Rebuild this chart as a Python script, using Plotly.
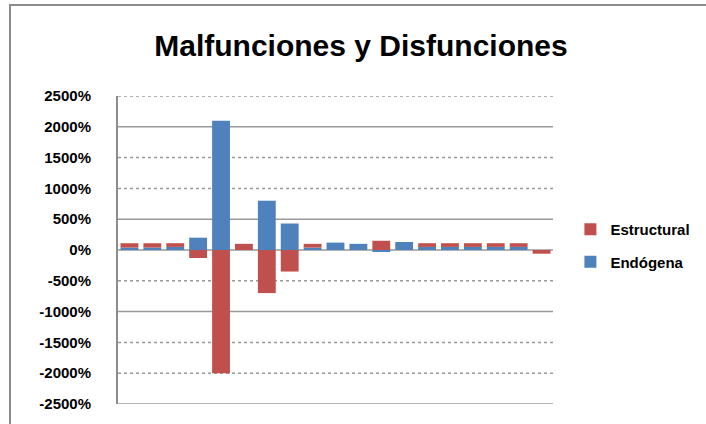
import plotly.graph_objects as go

categories = [str(i) for i in range(1, 20)]
estructural = [70, 70, 60, -130, -2000, 100, -700, -350, 60, 0, 0, 150, 0, 60, 60, 60, 60, 60, -60]
endogena = [40, 40, 50, 200, 2100, 0, 800, 430, 40, 120, 100, -20, 130, 50, 50, 50, 50, 50, 0]
tick_vals = [2500, 2000, 1500, 1000, 500, 0, -500, -1000, -1500, -2000, -2500]
tick_text = [f"<b>{v}%</b>" for v in tick_vals]
grid_dash = ["dot", "solid", "dot", "dot", "solid", "solid", "dot", "solid", "dot", "dot", "solid"]

RED = "#C0504D"
BLUE = "#4F81BD"

fig = go.Figure()
fig.add_trace(go.Bar(x=categories, y=endogena, name="<b>Endógena</b>", marker_color=BLUE,
                     marker_line_width=0, legendgroup="b", legendrank=2))
fig.add_trace(go.Bar(x=categories, y=estructural, name="<b>Estructural</b>", marker_color=RED,
                     marker_line_width=0, legendgroup="a", legendrank=1))

shapes = []
for v, d in zip(tick_vals, grid_dash):
    shapes.append(dict(type="line", xref="paper", yref="y", x0=0, x1=1, y0=v, y1=v,
                       line=dict(color="#9a9a9a", width=1.5, dash=d), layer="below"))
# outer chart border (only top and left visible in the crop)
shapes.append(dict(type="rect", xref="paper", yref="paper", x0=-0.2483, x1=1.40,
                   y0=-0.12, y1=1.2955, line=dict(color="#8c8c8c", width=2),
                   fillcolor="rgba(0,0,0,0)", layer="above"))

fig.update_layout(
    width=706, height=424,
    margin=dict(l=118, r=153, t=96, b=20, autoexpand=False),
    paper_bgcolor="white", plot_bgcolor="white",
    barmode="relative", bargap=0.22,
    title=dict(text="<b>Malfunciones y Disfunciones</b>", x=0.5586, xref="paper", xanchor="center",
               y=0.893, yanchor="middle",
               font=dict(family="Liberation Sans", size=30, color="black")),
    font=dict(family="Liberation Sans", color="black"),
    showlegend=True,
    legend=dict(x=1.04, xanchor="left", y=0.62, yanchor="top", traceorder="grouped",
                tracegroupgap=10, font=dict(size=15, family="Liberation Sans"),
                bgcolor="rgba(0,0,0,0)"),
    shapes=shapes,
)
fig.update_yaxes(range=[-2500, 2500], tickvals=tick_vals, ticktext=tick_text, automargin=False,
                 showgrid=False, zeroline=False, showline=True, linecolor="#8c8c8c", linewidth=2,
                 ticks="", ticklabelstandoff=22,
                 tickfont=dict(size=15, family="Liberation Sans", color="black"))
fig.update_xaxes(showticklabels=False, showgrid=False, zeroline=False, showline=False, ticks="",
                 automargin=False)
fig.write_html("out.html", config={"displayModeBar": False},
               post_script="document.body.style.margin='0';document.body.style.overflow='hidden';")
